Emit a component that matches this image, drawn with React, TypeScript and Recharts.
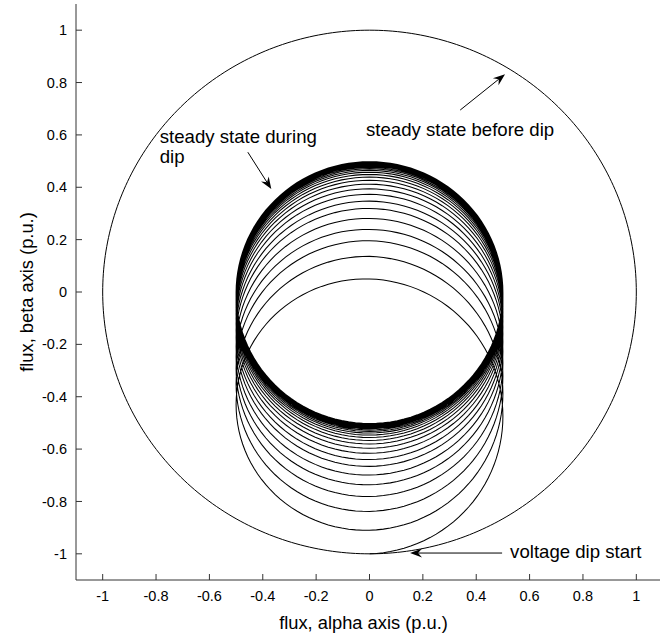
import React from 'react';
import { LineChart, Line, XAxis, YAxis, ReferenceLine, ReferenceDot } from 'recharts';

// ---- data ----
const alphaTicks = [-1, -0.8, -0.6, -0.4, -0.2, 0, 0.2, 0.4, 0.6, 0.8, 1];
const betaTicks = [-1, -0.8, -0.6, -0.4, -0.2, 0, 0.2, 0.4, 0.6, 0.8, 1];
const axisDomain: [number, number] = [-1.1, 1.1];

const preDipRadius = 1; // steady state before dip (p.u.)
const dipRadius = 0.5; // steady state during dip (p.u.)

// beta-axis centre of the flux locus at each half cycle after the dip starts
const betaCentreByHalfCycle = [
  -0.5, -0.45, -0.41, -0.364, -0.338, -0.304, -0.281, -0.261, -0.236, -0.219,
  -0.199, -0.181, -0.166, -0.153, -0.14, -0.127, -0.116, -0.106, -0.0966, -0.0881,
  -0.0804, -0.0734, -0.067, -0.0612, -0.0558, -0.051, -0.0465, -0.0424, -0.0387, -0.0354,
  -0.0323, -0.0294, -0.0269, -0.0245, -0.0224, -0.0204, -0.0186, -0.017, -0.0155, -0.0142,
  -0.0129, -0.0118, -0.0108, -0.0098, -0.009, -0.0082, -0.0075, -0.0068, -0.0062, -0.0057,
  -0.0052, -0.0047, -0.0043, -0.0039, -0.0036, -0.0033, -0.003, -0.0027, -0.0025, -0.0023,
  -0.0021,
];

const annotationTexts = ['steady state before dip', 'steady state during', 'dip', 'voltage dip start'];

// ---- geometry built from the values above ----
const outerLocus = Array.from({ length: 361 }, (_, i) => {
  const a = (i * Math.PI) / 180;
  return { x: preDipRadius * Math.cos(a), y: preDipRadius * Math.sin(a) };
});

const STEPS = 60;
const dipLocus: { x: number; y: number }[] = [];
for (let k = 0; k < betaCentreByHalfCycle.length - 1; k++) {
  const last = k === betaCentreByHalfCycle.length - 2;
  for (let j = 0; j < (last ? STEPS + 1 : STEPS); j++) {
    const t = j / STEPS;
    const phi = -Math.PI / 2 + Math.PI * (k + t);
    const c = betaCentreByHalfCycle[k] + (betaCentreByHalfCycle[k + 1] - betaCentreByHalfCycle[k]) * t;
    dipLocus.push({ x: dipRadius * Math.cos(phi), y: c + dipRadius * Math.sin(phi) });
  }
}

const FONT = '"Liberation Sans", Arial, sans-serif';
const AXIS_COLOR = '#333';
const TICK_FS = 14.5;
const LABEL_FS = 18.3;
const NOTE_FS = 18.6;

const BottomTick = (p: any) => (
  <g>
    <line x1={p.x} y1={p.y} x2={p.x} y2={p.y - 6} stroke={AXIS_COLOR} />
    <text x={p.x} y={p.y + 21} textAnchor="middle" fontSize={TICK_FS} fontFamily={FONT} fill="#000">
      {String(p.payload.value)}
    </text>
  </g>
);
const LeftTick = (p: any) => (
  <g>
    <line x1={p.x} y1={p.y} x2={p.x + 6} y2={p.y} stroke={AXIS_COLOR} />
    <text x={p.x - 9} y={p.y} dy="0.35em" textAnchor="end" fontSize={TICK_FS} fontFamily={FONT} fill="#000">
      {String(p.payload.value)}
    </text>
  </g>
);
const TopTick = (p: any) => <line x1={p.x} y1={p.y} x2={p.x} y2={p.y + 5} stroke={AXIS_COLOR} />;
const RightTick = (p: any) => <line x1={p.x} y1={p.y} x2={p.x - 5} y2={p.y} stroke={AXIS_COLOR} />;

const XTitle = (p: any) => {
  const vb = p.viewBox;
  return (
    <text x={vb.x + vb.width / 2 - 6} y={629} textAnchor="middle" fontSize={LABEL_FS} fontFamily={FONT} fill="#000">
      flux, alpha axis (p.u.)
    </text>
  );
};
const YTitle = (p: any) => {
  const vb = p.viewBox;
  const cy = vb.y + vb.height / 2;
  return (
    <text
      x={27}
      y={cy}
      transform={`rotate(-90 27 ${cy})`}
      dy="0.35em"
      textAnchor="middle"
      fontSize={LABEL_FS}
      fontFamily={FONT}
      fill="#000"
    >
      flux, beta axis (p.u.)
    </text>
  );
};

const Arrow = (p: any) => {
  const { x1, y1, x2, y2 } = p;
  const dx = x2 - x1;
  const dy = y2 - y1;
  const len = Math.sqrt(dx * dx + dy * dy) || 1;
  const ux = dx / len;
  const uy = dy / len;
  const nx = -uy;
  const ny = ux;
  const L = 12;
  const W = 4.5;
  const N = 8;
  const bx = x2 - ux * L;
  const by = y2 - uy * L;
  const mx = x2 - ux * N;
  const my = y2 - uy * N;
  return (
    <g>
      <line x1={x1} y1={y1} x2={mx} y2={my} stroke="#000" strokeWidth={1} />
      <path
        d={`M${x2},${y2} L${bx + nx * W},${by + ny * W} L${mx},${my} L${bx - nx * W},${by - ny * W} Z`}
        fill="#000"
      />
    </g>
  );
};

const makeTextShape = (label: string) => (p: any) => (
  <text x={p.cx} y={p.cy} fontSize={NOTE_FS} fontFamily={FONT} fill="#000">
    {label}
  </text>
);

export default function App() {
  return (
    <div style={{ position: 'absolute', left: 0, top: 0, width: 660, height: 638, overflow: 'hidden', background: '#fff' }}>
      <LineChart width={670} height={638} margin={{ top: 4, right: 7, bottom: 0, left: 0 }}>
        <XAxis
          xAxisId={0}
          type="number"
          dataKey="x"
          domain={axisDomain}
          ticks={alphaTicks}
          interval={0}
          height={58}
          tickSize={0}
          tickMargin={0}
          tickLine={false}
          axisLine={{ stroke: AXIS_COLOR }}
          tick={BottomTick}
          label={XTitle}
          allowDataOverflow
        />
        <XAxis
          xAxisId="top"
          orientation="top"
          type="number"
          dataKey="x"
          domain={axisDomain}
          ticks={alphaTicks}
          interval={0}
          height={0}
          tickSize={0}
          tickMargin={0}
          tickLine={false}
          axisLine={{ stroke: AXIS_COLOR }}
          tick={TopTick}
          allowDataOverflow
        />
        <YAxis
          yAxisId={0}
          type="number"
          domain={axisDomain}
          ticks={betaTicks}
          interval={0}
          width={76}
          tickSize={0}
          tickMargin={0}
          tickLine={false}
          axisLine={{ stroke: AXIS_COLOR }}
          tick={LeftTick}
          label={YTitle}
          allowDataOverflow
        />
        <YAxis
          yAxisId="right"
          orientation="right"
          type="number"
          domain={axisDomain}
          ticks={betaTicks}
          interval={0}
          width={0}
          tickSize={0}
          tickMargin={0}
          tickLine={false}
          axisLine={{ stroke: AXIS_COLOR }}
          tick={RightTick}
          allowDataOverflow
        />
        <Line
          data={outerLocus}
          dataKey="y"
          xAxisId={0}
          yAxisId={0}
          type="linear"
          stroke="#000"
          strokeWidth={1}
          dot={false}
          isAnimationActive={false}
        />
        <Line
          data={dipLocus}
          dataKey="y"
          xAxisId={0}
          yAxisId={0}
          type="linear"
          stroke="#000"
          strokeWidth={1.05}
          dot={false}
          isAnimationActive={false}
        />
        <ReferenceLine xAxisId={0} yAxisId={0} segment={[{ x: 0.34, y: 0.695 }, { x: 0.508, y: 0.832 }]} shape={Arrow} ifOverflow="visible" />
        <ReferenceLine xAxisId={0} yAxisId={0} segment={[{ x: -0.456, y: 0.534 }, { x: -0.368, y: 0.393 }]} shape={Arrow} ifOverflow="visible" />
        <ReferenceLine xAxisId={0} yAxisId={0} segment={[{ x: 0.497, y: -0.997 }, { x: 0.152, y: -0.997 }]} shape={Arrow} ifOverflow="visible" />
        <ReferenceDot xAxisId={0} yAxisId={0} x={-0.013} y={0.595} r={0} shape={makeTextShape(annotationTexts[0])} ifOverflow="visible" />
        <ReferenceDot xAxisId={0} yAxisId={0} x={-0.786} y={0.569} r={0} shape={makeTextShape(annotationTexts[1])} ifOverflow="visible" />
        <ReferenceDot xAxisId={0} yAxisId={0} x={-0.786} y={0.492} r={0} shape={makeTextShape(annotationTexts[2])} ifOverflow="visible" />
        <ReferenceDot xAxisId={0} yAxisId={0} x={0.527} y={-1.015} r={0} shape={makeTextShape(annotationTexts[3])} ifOverflow="visible" />
      </LineChart>
    </div>
  );
}
